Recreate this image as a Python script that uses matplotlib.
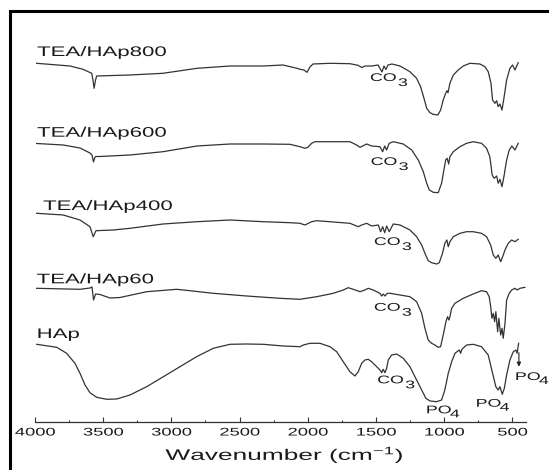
import matplotlib
matplotlib.use("Agg")
import matplotlib.pyplot as plt
from matplotlib.patheffects import AbstractPathEffect
from matplotlib.transforms import Affine2D
from matplotlib.patches import Rectangle

plt.rcParams['font.family'] = ['Liberation Sans', 'DejaVu Sans']
plt.rcParams['mathtext.default'] = 'regular'

# ---------------- data (wavenumber cm-1, transmittance a.u., stacked) ----------------
wn_800 = [3988, 3743, 3648, 3584, 3575, 3567, 3556, 3548, 3304, 3062, 2812, 2570, 2329, 2182,
          2079, 2057, 2028, 2006, 1984, 1962, 1837, 1691, 1632, 1603, 1581, 1529, 1485, 1456,
          1441, 1427, 1412, 1383, 1324, 1251, 1202, 1173, 1148, 1128, 1104, 1080, 1046, 1026,
          1007, 989, 980, 972, 958, 933, 897, 860, 811, 738, 701, 677, 657, 645, 628, 615, 604,
          591, 576, 562, 542, 518, 498, 481, 457]
t_800 = [358.4, 355.7, 352.4, 348.4, 341.7, 333.4, 341.7, 345.7, 346.7, 348.4, 353.4, 355.7,
         355.7, 356.7, 353.4, 352.4, 351.7, 349.4, 354.7, 357.7, 358.4, 358.0, 356.4, 354.2,
         355.7, 355.7, 356.7, 349.7, 355.7, 352.2, 356.7, 357.7, 355.7, 350.0, 343.4, 335.0,
         323.4, 313.4, 309.0, 307.4, 306.7, 311.7, 321.7, 328.4, 331.0, 329.0, 338.4, 346.7,
         351.7, 355.7, 358.4, 357.7, 355.0, 350.0, 338.7, 321.7, 318.4, 321.0, 315.0, 317.7,
         311.7, 323.4, 341.7, 353.4, 356.7, 351.7, 359.0]

wn_600 = [3988, 3793, 3670, 3597, 3582, 3571, 3560, 3553, 3523, 3304, 3062, 2812, 2570, 2329,
          2131, 2057, 2021, 1999, 1972, 1947, 1691, 1642, 1617, 1568, 1532, 1471, 1451, 1436,
          1422, 1403, 1373, 1300, 1238, 1190, 1153, 1128, 1109, 1080, 1044, 1019, 1002, 989,
          978, 967, 958, 933, 884, 836, 787, 726, 689, 665, 648, 633, 615, 604, 591, 576, 562,
          542, 523, 503, 481, 457]
t_600 = [278.2, 276.7, 273.7, 268.7, 266.7, 259.7, 264.7, 265.2, 265.2, 266.7, 270.0, 275.7,
         277.7, 277.7, 277.4, 275.0, 273.4, 274.4, 278.4, 280.0, 280.0, 276.7, 274.4, 277.7,
         275.7, 275.0, 270.0, 275.7, 271.7, 278.4, 280.0, 277.7, 271.7, 261.7, 250.0, 238.4,
         231.7, 229.4, 229.0, 238.4, 251.7, 261.7, 263.4, 257.7, 265.0, 270.0, 275.0, 278.4,
         280.0, 278.4, 273.4, 265.0, 246.7, 243.4, 245.7, 238.4, 242.4, 235.0, 245.0, 261.7,
         271.7, 275.7, 271.7, 278.4]

wn_400 = [3988, 3793, 3670, 3597, 3573, 3553, 3426, 3304, 3062, 2812, 2570, 2329, 2131, 2057,
          2021, 1972, 1935, 1691, 1630, 1605, 1568, 1532, 1483, 1466, 1451, 1436, 1422, 1403,
          1373, 1324, 1251, 1202, 1165, 1141, 1117, 1092, 1055, 1036, 1012, 995, 980, 970, 958,
          933, 884, 836, 787, 726, 689, 659, 640, 621, 604, 586, 571, 554, 530, 505, 481, 457]
t_400 = [208.4, 206.7, 201.7, 195.0, 185.0, 191.0, 191.7, 193.4, 197.7, 200.0, 201.7, 200.0,
         199.0, 198.4, 196.7, 200.0, 201.0, 198.4, 195.0, 196.7, 198.4, 195.7, 196.7, 190.0,
         195.0, 189.0, 195.7, 190.0, 197.7, 196.7, 191.7, 185.0, 176.7, 168.4, 161.0, 159.0,
         157.7, 159.0, 168.4, 178.4, 181.7, 175.0, 180.0, 185.0, 188.4, 190.0, 190.0, 188.4,
         185.0, 176.7, 166.7, 163.4, 166.7, 160.0, 165.0, 171.7, 178.4, 181.7, 180.0, 182.4]

wn_60 = [3988, 3670, 3597, 3582, 3571, 3556, 3523, 3450, 3377, 3181, 2961, 2864, 2693, 2448,
         2204, 2057, 1935, 1813, 1740, 1703, 1667, 1617, 1581, 1557, 1520, 1471, 1458, 1447,
         1434, 1417, 1397, 1324, 1251, 1202, 1165, 1141, 1117, 1092, 1068, 1044, 1026, 1007,
         987, 975, 965, 958, 945, 921, 860, 787, 726, 689, 670, 659, 650, 640, 630, 621, 608,
         599, 586, 576, 567, 554, 542, 523, 505, 481, 465, 444, 408]
t_60 = [133.4, 132.4, 133.7, 134.7, 121.7, 127.7, 127.2, 123.7, 124.2, 130.0, 132.4, 131.0,
        128.4, 125.7, 123.4, 122.4, 125.0, 128.4, 131.7, 134.0, 132.4, 130.0, 131.7, 133.4,
        131.7, 128.4, 125.7, 127.7, 125.7, 128.4, 128.4, 126.7, 125.0, 120.0, 108.4, 93.4,
        81.7, 78.4, 76.7, 74.4, 75.0, 86.7, 100.0, 105.0, 101.7, 105.0, 113.4, 118.4, 123.4,
        127.7, 131.0, 130.0, 125.0, 115.0, 103.4, 108.4, 100.0, 110.0, 90.0, 103.4, 86.7,
        93.4, 83.4, 98.4, 121.7, 128.4, 131.7, 133.4, 131.7, 133.4, 134.4]

wn_hap = [3988, 3841, 3768, 3707, 3670, 3633, 3597, 3548, 3474, 3401, 3304, 3181, 3059, 2937,
          2815, 2693, 2570, 2448, 2326, 2180, 2057, 2033, 1984, 1911, 1837, 1788, 1740, 1691,
          1654, 1630, 1605, 1581, 1557, 1532, 1495, 1471, 1458, 1447, 1434, 1422, 1410, 1385,
          1348, 1300, 1251, 1202, 1165, 1134, 1104, 1055, 1019, 995, 970, 945, 921, 889, 879,
          870, 836, 787, 726, 677, 645, 621, 604, 591, 574, 559, 542, 518, 493, 474, 465, 454]
t_hap = [77.4, 74.4, 68.4, 58.4, 48.4, 36.7, 29.0, 24.4, 22.4, 22.7, 26.7, 35.0, 45.0, 55.0,
         65.0, 73.4, 77.4, 77.7, 77.4, 75.7, 75.0, 76.7, 78.4, 78.4, 75.0, 70.0, 60.0, 50.0,
         45.7, 50.0, 58.4, 61.7, 62.4, 60.0, 55.0, 51.7, 49.0, 52.4, 49.0, 53.4, 61.7, 66.7,
         67.7, 63.4, 55.0, 41.7, 31.7, 23.4, 20.7, 20.0, 21.7, 31.7, 48.4, 60.0, 68.4, 71.7,
         68.4, 72.4, 76.7, 77.4, 75.0, 66.7, 48.4, 35.0, 31.7, 35.0, 27.4, 33.4, 46.7, 61.7,
         70.0, 71.7, 68.4, 78.4]

sample_names = ["TEA/HAp800", "TEA/HAp600", "TEA/HAp400", "TEA/HAp60", "HAp"]
sample_label_wn = [3985, 3985, 3941, 3988, 3988]
sample_label_t = [365.7, 285.0, 211.7, 138.4, 83.7]

co3_wn = [1544, 1539, 1515, 1515, 1491]
co3_t = [340.7, 256.7, 176.7, 111.0, 38.4]

po4_wn = [1134, 769, 481]
po4_t = [8.4, 15.0, 41.7]
arrow_wn = 452
arrow_from_t = 69.0
arrow_to_t = 55.0

major_ticks = [4000, 3500, 3000, 2500, 2000, 1500, 1000, 500]
minor_ticks = [3750, 3250, 2750, 2250, 1750, 1250, 750]
tick_labels = [str(v) for v in major_ticks]


# ---------------- horizontal text stretch (source image is widened) ----------------
class HStretch(AbstractPathEffect):
    def __init__(self, sx, anchor='left'):
        super().__init__()
        self.sx = sx
        self.anchor = anchor

    def draw_path(self, renderer, gc, tpath, affine, rgbFace=None):
        v = tpath.vertices
        if len(v):
            x0, x1 = v[:, 0].min(), v[:, 0].max()
        else:
            x0 = x1 = 0.0
        c = {'left': x0, 'center': 0.5 * (x0 + x1), 'right': x1}[self.anchor]
        t = Affine2D().translate(-c, 0).scale(self.sx, 1.0).translate(c, 0)
        renderer.draw_path(gc, tpath, t + affine, rgbFace)


W, H = 549, 470
fig = plt.figure(figsize=(W / 100, H / 100), dpi=100)
fig.patch.set_facecolor('white')

ax_left, ax_right, ax_bottom = 35, 526, 421.7
ax = fig.add_axes([ax_left / W, (H - ax_bottom) / H, (ax_right - ax_left) / W, ax_bottom / H])
ax.set_facecolor('none')

line_color = '#333333'
text_color = '#1a1a1a'
for wn, t in [(wn_800, t_800), (wn_600, t_600), (wn_400, t_400), (wn_60, t_60), (wn_hap, t_hap)]:
    ax.plot(wn, t, color=line_color, lw=0.9, solid_joinstyle='round')

ax.set_xlim(4000, 400)
ax.set_ylim(0, ax_bottom)

for s in ['left', 'right', 'top']:
    ax.spines[s].set_visible(False)
ax.spines['bottom'].set_color('#333333')
ax.spines['bottom'].set_linewidth(0.9)
ax.set_yticks([])
ax.set_xticks(major_ticks)
ax.set_xticklabels(tick_labels)
ax.set_xticks(minor_ticks, minor=True)
ax.tick_params(axis='x', which='major', direction='in', length=3.8, width=0.8,
               color='#333333', pad=4.2, labelsize=8, labelcolor=text_color)
ax.tick_params(axis='x', which='minor', direction='in', length=1.8, width=0.8, color='#333333')

# axis label
ax.set_xlabel(r'Wavenumber (cm$^{-1}$)', fontsize=11, color=text_color)
ax.xaxis.set_label_coords((284.5 - ax_left) / (ax_right - ax_left), -(460 - ax_bottom) / ax_bottom)
ax.xaxis.label.set_va('baseline')
ax.xaxis.label.set_path_effects([HStretch(1.72, 'center')])

# sample names
for name, x, y in zip(sample_names, sample_label_wn, sample_label_t):
    ax.text(x, y, name, fontsize=10, color=text_color, ha='left', va='baseline',
            path_effects=[HStretch(1.6)])

# CO3 labels
for x, y in zip(co3_wn, co3_t):
    ax.text(x, y, 'CO', fontsize=8, color=text_color, ha='left', va='baseline',
            path_effects=[HStretch(1.6)])
    ax.annotate('3', xy=(x, y), xytext=(28, -5), textcoords='offset pixels', fontsize=8,
                color=text_color, ha='left', va='baseline', path_effects=[HStretch(1.6)],
                annotation_clip=False)

# PO4 labels
for x, y in zip(po4_wn, po4_t):
    ax.text(x, y, 'PO', fontsize=8, color=text_color, ha='left', va='baseline',
            path_effects=[HStretch(1.6)], clip_on=False)
    ax.annotate('4', xy=(x, y), xytext=(24, -4), textcoords='offset pixels', fontsize=8,
                color=text_color, ha='left', va='baseline', path_effects=[HStretch(1.6)],
                annotation_clip=False)

ax.annotate('', xy=(arrow_wn, arrow_to_t), xytext=(arrow_wn, arrow_from_t),
            arrowprops=dict(arrowstyle='-|>', color='#222222', lw=0.8,
                            mutation_scale=6, shrinkA=0, shrinkB=0),
            annotation_clip=False)

# outer frame of the (cropped) figure
fig.add_artist(Rectangle((9.5 / W, -0.2), 1.5, 1.2 - 11.3 / H, transform=fig.transFigure,
                         fill=False, edgecolor='black', lw=2.2))

fig.canvas.draw()
for lab in ax.get_xticklabels():
    lab.set_path_effects([HStretch(1.65, 'center')])

fig.savefig('out.png', dpi=100, facecolor='white')
